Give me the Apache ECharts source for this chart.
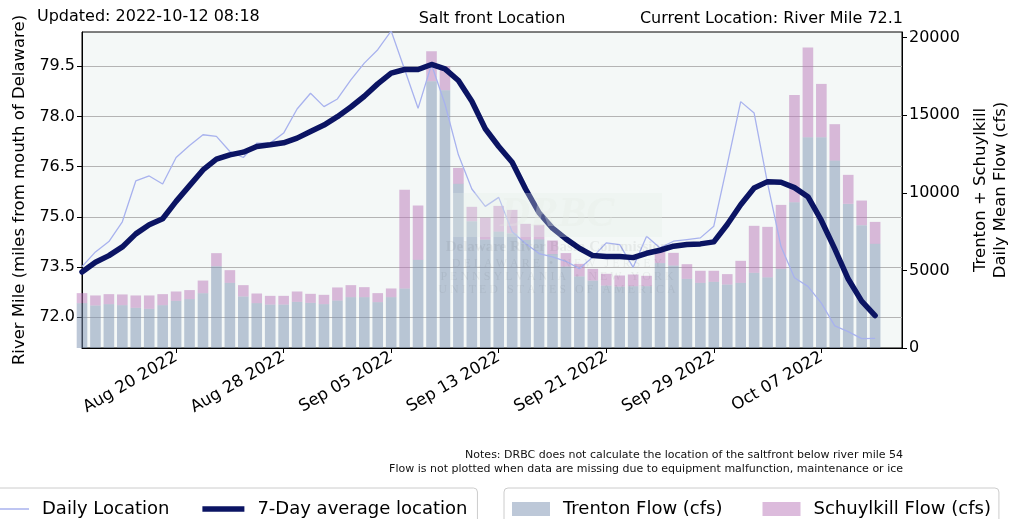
<!DOCTYPE html>
<html>
<head>
<meta charset="utf-8">
<title>Salt front Location</title>
<script src="https://cdn.jsdelivr.net/npm/echarts@6.0.0/dist/echarts.min.js"></script>
<style>
html, body { margin: 0; padding: 0; background: #fff; }
#main { width: 1009px; height: 519px; }
</style>
</head>
<body>
<div id="main"></div>
<script>
// x categories, one per day (last two days have no data yet)
var dates = [
    '2022-08-13', '2022-08-14', '2022-08-15', '2022-08-16', '2022-08-17', '2022-08-18', '2022-08-19', '2022-08-20',
    '2022-08-21', '2022-08-22', '2022-08-23', '2022-08-24', '2022-08-25', '2022-08-26', '2022-08-27', '2022-08-28',
    '2022-08-29', '2022-08-30', '2022-08-31', '2022-09-01', '2022-09-02', '2022-09-03', '2022-09-04', '2022-09-05',
    '2022-09-06', '2022-09-07', '2022-09-08', '2022-09-09', '2022-09-10', '2022-09-11', '2022-09-12', '2022-09-13',
    '2022-09-14', '2022-09-15', '2022-09-16', '2022-09-17', '2022-09-18', '2022-09-19', '2022-09-20', '2022-09-21',
    '2022-09-22', '2022-09-23', '2022-09-24', '2022-09-25', '2022-09-26', '2022-09-27', '2022-09-28', '2022-09-29',
    '2022-09-30', '2022-10-01', '2022-10-02', '2022-10-03', '2022-10-04', '2022-10-05', '2022-10-06', '2022-10-07',
    '2022-10-08', '2022-10-09', '2022-10-10', '2022-10-11', '2022-10-12', '2022-10-13'
];

// river mile, daily
var dailyLocation = [
    73.51, 73.95, 74.26, 74.85, 76.07, 76.22, 75.98, 76.77, 77.13, 77.45,
    77.40, 76.95, 76.77, 77.20, 77.20, 77.50, 78.22, 78.69, 78.29, 78.52,
    79.09, 79.59, 79.99, 80.55, 79.40, 78.24, 79.55, 78.37, 76.85, 75.83,
    75.31, 75.58, 74.55, 74.20, 73.90, 73.80, 73.67, 73.45, 73.80, 74.22,
    74.17, 73.49, 74.42, 74.07, 74.27, 74.32, 74.37, 74.72, 76.56, 78.44,
    78.10, 76.00, 74.11, 73.18, 72.92, 72.42, 71.74, 71.57, 71.36, 71.37
];

// river mile, 7-day average
var avgLocation = [
    73.35, 73.64, 73.84, 74.10, 74.49, 74.76, 74.94, 75.46, 75.93, 76.40,
    76.72, 76.85, 76.93, 77.10, 77.15, 77.21, 77.35, 77.55, 77.74, 77.99,
    78.28, 78.60, 78.97, 79.29, 79.40, 79.40, 79.55, 79.42, 79.07, 78.45,
    77.63, 77.10, 76.63, 75.83, 75.12, 74.66, 74.34, 74.06, 73.84, 73.81,
    73.81, 73.78, 73.91, 74.00, 74.12, 74.17, 74.19, 74.25, 74.77, 75.36,
    75.86, 76.05, 76.03, 75.87, 75.60, 74.89, 74.04, 73.14, 72.48, 72.05
];

// cfs
var trentonFlow = [
    2890, 2740, 2825, 2760, 2590, 2525, 2760, 3040, 3150, 3530,
    5270, 4200, 3320, 2890, 2800, 2800, 2975, 2910, 2825, 3060,
    3275, 3275, 2955, 3275, 3835, 5680, 17190, 16610, 10575, 8170,
    6990, 7500, 7400, 6970, 7000, 6050, 5250, 4615, 4345, 4025,
    3960, 3985, 3985, 5470, 5315, 4455, 4200, 4265, 4090, 4200,
    4845, 4555, 5100, 9385, 13580, 13580, 12075, 9285, 7915, 6710
];

var schuylkillFlow = [
    645, 645, 645, 690, 795, 860, 710, 600, 580, 815,
    840, 815, 730, 620, 560, 560, 665, 580, 600, 840,
    775, 645, 580, 560, 6355, 3500, 1930, 1545, 1030, 925,
    1415, 1655, 1500, 1030, 935, 875, 865, 805, 755, 755,
    710, 750, 665, 725, 815, 945, 775, 710, 670, 1415,
    3025, 3250, 4120, 6920, 5785, 3435, 2345, 1870, 1585, 1415
];

// tick labels
var xTickDates = ['2022-08-20', '2022-08-28', '2022-09-05', '2022-09-13', '2022-09-21', '2022-09-29', '2022-10-07'];
var mileTicks = [72.0, 73.5, 75.0, 76.5, 78.0, 79.5];
var flowTicks = [0, 5000, 10000, 15000, 20000];

var MONTHS = ['Jan', 'Feb', 'Mar', 'Apr', 'May', 'Jun', 'Jul', 'Aug', 'Sep', 'Oct', 'Nov', 'Dec']
    , FONT = 'DejaVu Sans';

//'2022-08-20' -> 'Aug 20 2022'
function fmtDate(s) {
    var p = s.split('-');
    return MONTHS[+p[1] - 1] + ' ' + p[2] + ' ' + p[0];
}

function isTick(i, v) {
    return xTickDates.indexOf(v) >= 0;
}

var chart = echarts.init(document.getElementById('main'), null, {renderer: 'canvas'});

var option = {
    animation: false,
    textStyle: {fontFamily: FONT},
    grid: {
        left: 82, right: 107, top: 32, bottom: 171,
        outerBoundsMode: 'none', containLabel: false,
        show: true, backgroundColor: '#f4f8f7', borderColor: '#000', borderWidth: 1
    },
    graphic: [
        {type: 'text', left: 37, top: 9, z: 10,
            style: {text: 'Updated: 2022-10-12 08:18', font: '16px "DejaVu Sans"', fill: '#000'}},
        {type: 'text', x: 492, y: 19, z: 10,
            style: {text: 'Salt front Location', font: '16px "DejaVu Sans"', fill: '#000', align: 'center', verticalAlign: 'middle'}},
        {type: 'text', x: 903, y: 19, z: 10,
            style: {text: 'Current Location: River Mile 72.1', font: '16px "DejaVu Sans"', fill: '#000', align: 'right', verticalAlign: 'middle'}},
        // notes
        {type: 'text', x: 903, y: 455, z: 10,
            style: {text: 'Notes: DRBC does not calculate the location of the saltfront below river mile 54', font: '11px "DejaVu Sans"', fill: '#111', align: 'right', verticalAlign: 'middle'}},
        {type: 'text', x: 903, y: 469, z: 10,
            style: {text: 'Flow is not plotted when data are missing due to equipment malfunction, maintenance or ice', font: '11px "DejaVu Sans"', fill: '#111', align: 'right', verticalAlign: 'middle'}},
        // faint DRBC watermark
        {type: 'rect', shape: {x: 453, y: 193, width: 209, height: 44}, z: 50, silent: true,
            style: {fill: '#e3ede7', opacity: 0.3}},
        {type: 'text', x: 557, y: 215, z: 51, silent: true,
            style: {text: 'DRBC', font: 'italic bold 42px "Liberation Serif"', fill: '#e3ece6', opacity: 0.3, align: 'center', verticalAlign: 'middle'}},
        {type: 'text', x: 557, y: 247, z: 51, silent: true,
            style: {text: 'Delaware River Basin Commission', font: 'bold 15px "Liberation Serif"', fill: '#000', opacity: 0.06, align: 'center', verticalAlign: 'middle'}},
        {type: 'text', x: 557, y: 264, z: 51, silent: true,
            style: {text: 'D E L A W A R E   \u2022   N E W   J E R S E Y', font: '12px "Liberation Serif"', fill: '#000', opacity: 0.06, align: 'center', verticalAlign: 'middle'}},
        {type: 'text', x: 557, y: 277, z: 51, silent: true,
            style: {text: 'P E N N S Y L V A N I A   \u2022   N E W   Y O R K', font: '12px "Liberation Serif"', fill: '#000', opacity: 0.06, align: 'center', verticalAlign: 'middle'}},
        {type: 'text', x: 557, y: 290, z: 51, silent: true,
            style: {text: 'U N I T E D   S T A T E S   O F   A M E R I C A', font: '12px "Liberation Serif"', fill: '#000', opacity: 0.06, align: 'center', verticalAlign: 'middle'}}
    ],
    legend: [
        {
            data: [
                {name: 'Daily Location', icon: 'path://M0,0 L42,0 L42,1.4 L0,1.4 Z'},
                {name: '7-Day average location', icon: 'path://M0,0 L42,0 L42,5.5 L0,5.5 Z'}
            ],
            left: -23, top: 488, padding: [12, 10, 6, 10],
            itemWidth: 42, itemHeight: 14, itemGap: 33,
            borderColor: '#ccc', borderWidth: 1, borderRadius: 4,
            textStyle: {fontSize: 18, color: '#000', fontFamily: FONT, padding: [0, 0, 0, 8]}
        },
        {
            data: ['Trenton Flow (cfs)', 'Schuylkill Flow (cfs)'],
            left: 504, top: 488, padding: [12, 8, 6, 8],
            icon: 'rect', itemWidth: 38, itemHeight: 14, itemGap: 40,
            borderColor: '#ccc', borderWidth: 1, borderRadius: 4,
            textStyle: {fontSize: 18, color: '#000', fontFamily: FONT, padding: [0, 0, 0, 8]}
        }
    ],
    xAxis: {
        type: 'category',
        data: dates,
        boundaryGap: false,
        axisLine: {show: true, lineStyle: {color: '#000', width: 1}},
        axisTick: {show: true, length: 5, interval: isTick, lineStyle: {color: '#000'}},
        axisLabel: {
            interval: isTick,
            rotate: 30, fontSize: 16.5, color: '#000', margin: 8, padding: [0, 0, 4, 0],
            formatter: fmtDate
        },
        splitLine: {show: false}
    },
    yAxis: [
        {
            type: 'value', position: 'left',
            min: 71.08, max: 80.52,
            name: 'River Mile (miles from mouth of Delaware)',
            nameLocation: 'middle', nameRotate: 90, nameGap: 54,
            nameTextStyle: {fontSize: 16.5, color: '#000'},
            axisLine: {show: true, lineStyle: {color: '#000'}},
            axisTick: {show: true, length: 5, lineStyle: {color: '#000'}, customValues: mileTicks},
            axisLabel: {customValues: mileTicks, fontSize: 16, color: '#000', margin: 7,
                formatter: function (v) { return v.toFixed(1); }},
            splitLine: {show: true, lineStyle: {color: '#b4b4b4', width: 1.2}}
        },
        {
            type: 'value', position: 'right',
            min: 0, max: 20360,
            name: 'Trenton + Schuylkill\nDaily Mean Flow (cfs)',
            nameLocation: 'middle', nameRotate: 90, nameGap: 64,
            nameTextStyle: {fontSize: 16.5, color: '#000', lineHeight: 20},
            axisLine: {show: true, lineStyle: {color: '#000'}},
            axisTick: {show: true, length: 5, lineStyle: {color: '#000'}, customValues: flowTicks},
            axisLabel: {customValues: flowTicks, fontSize: 16, color: '#000', margin: 7,
                formatter: function (v) { return String(v); }},
            splitLine: {show: false}
        }
    ],
    series: [
        {
            name: 'Daily Location', type: 'line', yAxisIndex: 0,
            data: dailyLocation,
            symbol: 'none', showSymbol: false,
            lineStyle: {color: '#a8b2ee', width: 1.3},
            itemStyle: {color: '#a8b2ee'}
        },
        {
            name: '7-Day average location', type: 'line', yAxisIndex: 0,
            data: avgLocation,
            symbol: 'none', showSymbol: false,
            lineStyle: {color: '#0b1463', width: 5.5, join: 'round', cap: 'round'},
            itemStyle: {color: '#0b1463'}
        },
        {
            name: 'Trenton Flow (cfs)', type: 'bar', yAxisIndex: 1, stack: 'flow',
            data: trentonFlow, barWidth: 10.6,
            itemStyle: {color: '#7b92b2', opacity: 0.5}
        },
        {
            name: 'Schuylkill Flow (cfs)', type: 'bar', yAxisIndex: 1, stack: 'flow',
            data: schuylkillFlow, barWidth: 10.6,
            itemStyle: {color: '#b978b9', opacity: 0.5}
        }
    ]
};

chart.setOption(option);
window.onresize = chart.resize;
</script>
</body>
</html>
